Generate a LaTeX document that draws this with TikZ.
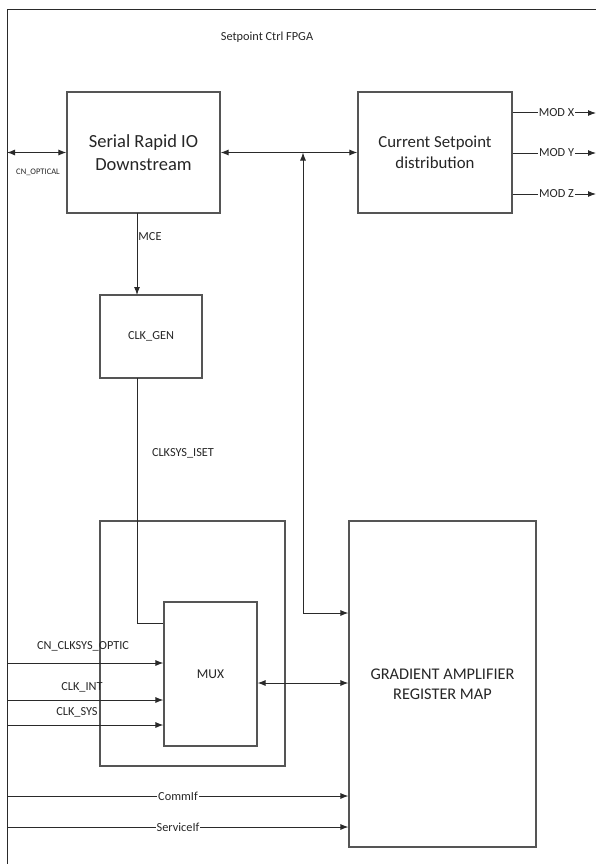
\documentclass[tikz,border=0pt]{standalone}
\usepackage{fontspec}
\setmainfont{Carlito}
\usetikzlibrary{arrows.meta}
\definecolor{ln}{HTML}{2A2A2A}
\definecolor{bx}{HTML}{555555}
\definecolor{tx}{HTML}{262626}
\begin{document}
\begin{tikzpicture}[x=1pt,y=-1pt,
  blk/.style={draw=bx, line width=1.1pt, fill=white, inner sep=2pt, align=center, text=tx},
  wire/.style={draw=ln, line width=1pt},
  arr/.style={wire, -{Latex[length=8pt,width=6pt]}},
  darr/.style={wire, {Latex[length=8pt,width=6pt]}-{Latex[length=8pt,width=6pt]}},
  lbl/.style={text=tx, font=\fontsize{12.3}{14}\selectfont, inner sep=1pt},
  onlbl/.style={lbl, fill=white}]
\useasboundingbox (0,0) rectangle (595,864);
\fill[white] (0,0) rectangle (595,864);
% frame
\coordinate (ftl) at (7,10);
\coordinate (ftr) at (597,10);
\coordinate (fbl) at (7,866);
\draw[wire] (ftr) -- (ftl) -- (fbl);
\node[lbl] (title) at (267,37) {Setpoint Ctrl FPGA};
% blocks
\node[blk, minimum width=153pt, minimum height=121pt, font=\fontsize{18.5}{23}\selectfont] (srio) at (143.5,152.5) {Serial Rapid IO\\Downstream};
\node[blk, minimum width=154pt, minimum height=121pt, font=\fontsize{16.8}{21}\selectfont] (csd) at (435,152.5) {Current Setpoint\\distribution};
\node[blk, minimum width=102pt, minimum height=83pt, font=\fontsize{12.3}{14}\selectfont] (clkgen) at (151,336.5) {CLK\_GEN};
\node[blk, minimum width=185pt, minimum height=245pt] (muxouter) at (192.5,643.5) {};
\node[blk, minimum width=187pt, minimum height=326pt, font=\fontsize{16.3}{20}\selectfont] (grm) at (442.5,684) {GRADIENT AMPLIFIER\\REGISTER MAP};
% CLKSYS_ISET line
\coordinate (cgb) at (137,378);
\coordinate (cgbend) at (137,623);
\node[blk, minimum width=93pt, minimum height=144pt] (mux) at (210.5,674) {};
\node[lbl, font=\fontsize{13.5}{16}\selectfont] (muxt) at (210.5,674) {MUX};
\draw[wire] (cgb) -- (cgbend) -- (mux.west |- cgbend);
\node[lbl] (iset) at (183,453) {CLKSYS\_ISET};
% CN_OPTICAL
\coordinate (optl) at (7,152.5);
\draw[darr] (optl) -- (srio.west);
\node[lbl, font=\fontsize{8.5}{10}\selectfont] (optlbl) at (38,172) {CN\_OPTICAL};
% SRIO <-> CSD and junction
\draw[darr] (srio.east) -- (csd.west);
\coordinate (jt) at (303,152.5);
\coordinate (jb) at (303,613);
\draw[arr] (jb) -- (jt);
\draw[arr] (jb) -- (grm.west |- jb);
% MOD outputs
\foreach \yy/\nm/\tt in {113/modx/MOD X,153/mody/MOD Y,194/modz/MOD Z}{
  \coordinate (\nm s) at (csd.east |- 0,\yy);
  \coordinate (\nm e) at (596,\yy);
  \draw[arr] (\nm s) -- (\nm e);
  \node[onlbl] (\nm) at (556.5,\yy) {\tt};
}
% MCE
\coordinate (mces) at (137,213);
\coordinate (mcee) at (137,295);
\draw[arr] (mces) -- (mcee);
\node[lbl] (mce) at (150,237) {MCE};
% MUX inputs
\coordinate (in1) at (7,663);
\coordinate (in2) at (7,700);
\coordinate (in3) at (7,725);
\draw[arr] (in1) -- (mux.west |- in1);
\draw[arr] (in2) -- (mux.west |- in2);
\draw[arr] (in3) -- (mux.west |- in3);
\node[lbl] (l1) at (83,646) {CN\_CLKSYS\_OPTIC};
\node[lbl] (l2) at (82,687) {CLK\_INT};
\node[lbl] (l3) at (77,712) {CLK\_SYS};
% MUX <-> GRM
\coordinate (mg) at (257,683);
\draw[darr] (mux.east |- mg) -- (grm.west |- mg);
% CommIf / ServiceIf
\coordinate (c1) at (7,796);
\coordinate (c2) at (7,827);
\draw[arr] (c1) -- (grm.west |- c1);
\draw[arr] (c2) -- (grm.west |- c2);
\node[onlbl] (comm) at (178,796) {CommIf};
\node[onlbl] (serv) at (178,827) {ServiceIf};
\end{tikzpicture}
\end{document}
